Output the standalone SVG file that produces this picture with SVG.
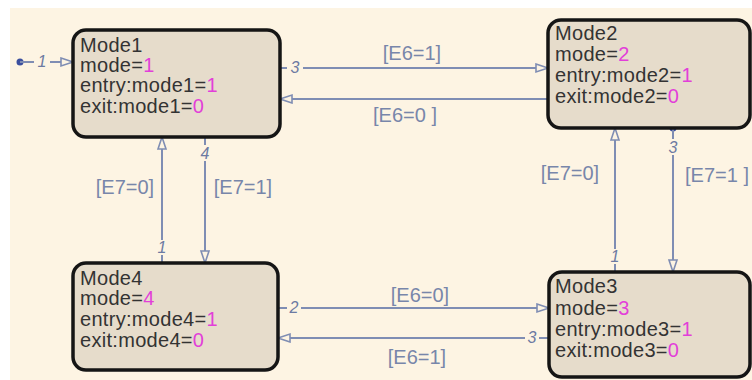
<svg xmlns="http://www.w3.org/2000/svg" width="752" height="380" viewBox="0 0 752 380">
<style>
.state{fill:#e6dccb;stroke:#151515;stroke-width:3.5}
.nt{font-family:"Liberation Sans",Arial,sans-serif;font-size:20px;letter-spacing:0.3px;fill:#333333}
.v{fill:#e23fd9}
.wire{fill:none;stroke:#7f8db3;stroke-width:2}
.lbl{font-family:"Liberation Sans",Arial,sans-serif;font-size:20px;fill:#7886aa;text-anchor:middle}
.num{font-family:"Liberation Sans",Arial,sans-serif;font-size:16px;font-style:italic;fill:#6c7aa2;text-anchor:middle}
</style>
<defs>
<marker id="arr" markerWidth="14" markerHeight="12" refX="13" refY="6" orient="auto" markerUnits="userSpaceOnUse">
<path d="M1,2 L13,6 L1,10 Z" fill="#fdf4e3" stroke="#7f8db3" stroke-width="1.6"/>
</marker>
</defs>
<rect x="0" y="0" width="752" height="380" fill="#ffffff"/>
<rect x="10" y="8" width="742" height="372" fill="#fdf4e3"/>

<g id="connectors">
<g id="init">
<circle cx="20" cy="62" r="3.5" fill="#3b4f9e"/>
<path class="wire" d="M20,62 H34 M50,62 H73" marker-end="url(#arr)"/>
<text class="num" x="42" y="67">1</text>
</g>
<g id="t12">
<path class="wire" d="M280,68 H287 M303,68 H548" marker-end="url(#arr)"/>
<text class="num" x="295" y="73">3</text>
<text class="lbl" x="412" y="60">[E6=1]</text>
</g>
<g id="t21">
<path class="wire" d="M548,99 H280" marker-end="url(#arr)"/>
<text class="lbl" x="405" y="122">[E6=0 ]</text>
</g>
<g id="t41">
<path class="wire" d="M162,263 V255 M162,240 V137" marker-end="url(#arr)"/>
<text class="num" x="162" y="253">1</text>
<text class="lbl" x="125" y="194">[E7=0]</text>
</g>
<g id="t14">
<path class="wire" d="M205,137 V145 M205,161 V263" marker-end="url(#arr)"/>
<text class="num" x="205" y="159">4</text>
<text class="lbl" x="243" y="194">[E7=1]</text>
</g>
<g id="t32">
<path class="wire" d="M615,272 V264 M615,249 V128" marker-end="url(#arr)"/>
<text class="num" x="615" y="262">1</text>
<text class="lbl" x="570" y="180">[E7=0]</text>
</g>
<g id="t23">
<circle cx="673" cy="128" r="3.5" fill="#3b4f9e"/>
<path class="wire" d="M673,128 V139 M673,155 V272" marker-end="url(#arr)"/>
<text class="num" x="673" y="153">3</text>
<text class="lbl" x="717" y="182">[E7=1 ]</text>
</g>
<g id="t43">
<path class="wire" d="M278,308 H287 M301,308 H549" marker-end="url(#arr)"/>
<text class="num" x="294" y="313">2</text>
<text class="lbl" x="420" y="302">[E6=0]</text>
</g>
<g id="t34">
<path class="wire" d="M549,338 H539 M525,338 H278" marker-end="url(#arr)"/>
<text class="num" x="532" y="343">3</text>
<text class="lbl" x="417" y="364">[E6=1]</text>
</g>
</g>

<g id="Mode1">
<rect class="state" x="73" y="30" width="207" height="107" rx="13"/>
<text class="nt" x="80" y="52">Mode1</text>
<text class="nt" x="80" y="72">mode=<tspan class="v">1</tspan></text>
<text class="nt" x="80" y="92">entry:mode1=<tspan class="v">1</tspan></text>
<text class="nt" x="80" y="113">exit:mode1=<tspan class="v">0</tspan></text>
</g>
<g id="Mode2">
<rect class="state" x="548" y="20" width="202" height="108" rx="13"/>
<text class="nt" x="555" y="40">Mode2</text>
<text class="nt" x="555" y="61">mode=<tspan class="v">2</tspan></text>
<text class="nt" x="555" y="82">entry:mode2=<tspan class="v">1</tspan></text>
<text class="nt" x="555" y="103">exit:mode2=<tspan class="v">0</tspan></text>
</g>
<g id="Mode4">
<rect class="state" x="73" y="263" width="205" height="107" rx="13"/>
<text class="nt" x="80" y="285">Mode4</text>
<text class="nt" x="80" y="305">mode=<tspan class="v">4</tspan></text>
<text class="nt" x="80" y="326">entry:mode4=<tspan class="v">1</tspan></text>
<text class="nt" x="80" y="347">exit:mode4=<tspan class="v">0</tspan></text>
</g>
<g id="Mode3">
<rect class="state" x="549" y="272" width="201" height="105" rx="13"/>
<text class="nt" x="555" y="293">Mode3</text>
<text class="nt" x="555" y="315">mode=<tspan class="v">3</tspan></text>
<text class="nt" x="555" y="336">entry:mode3=<tspan class="v">1</tspan></text>
<text class="nt" x="555" y="357">exit:mode3=<tspan class="v">0</tspan></text>
</g>
</svg>
